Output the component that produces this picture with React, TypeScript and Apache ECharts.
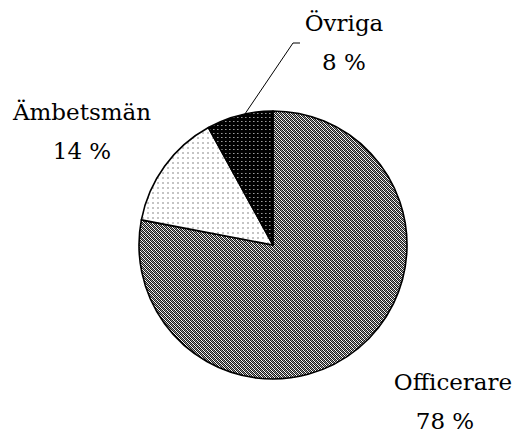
import React, { useEffect, useRef } from "react";
import * as echarts from "echarts";

const categories = ["Officerare", "Ämbetsmän", "Övriga"];
const values = [78, 14, 8];

function makePattern(size: number, paint: (x: number, y: number) => string) {
  const c = document.createElement("canvas");
  c.width = size;
  c.height = size;
  const ctx = c.getContext("2d")!;
  for (let y = 0; y < size; y++) {
    for (let x = 0; x < size; x++) {
      ctx.fillStyle = paint(x, y);
      ctx.fillRect(x, y, 1, 1);
    }
  }
  return c;
}

export default function App() {
  const ref = useRef<HTMLDivElement>(null);
  useEffect(() => {
    if (!ref.current) return;
    const chart = echarts.init(ref.current, undefined, { renderer: "svg" });

    const offPat = makePattern(4, (x, y) => {
      if ((x + y) % 2 === 0) return "#1a1a1a";
      return (x - y + 8) % 4 === 1 ? "#ffffff" : "#9a9a9a";
    });
    const ambPat = makePattern(5, (x, y) =>
      (x === 2 || x === 3) && (y === 2 || y === 3) ? "#c4c4c4" : "#fff"
    );
    const ovrPat = makePattern(4, (x, y) =>
      x === 1 && y === 1 ? "#9a9a9a" : x === 2 && y === 1 ? "#555" : "#000"
    );
    const patterns = [offPat, ambPat, ovrPat];

    const cx = 273, cy = 245, r = 134;
    const labelPos = [
      { x: 453, y: 401, padR: 16 },
      { x: 82, y: 131, padR: 0 },
      { x: 344, y: 42, padR: 0 },
    ];

    // leader line start for "Övriga": computed from data (part-way along its slice)
    const total = values.reduce((a, b) => a + b, 0);
    const before = values[0] + values[1];
    const midFrac = (before + values[2] * 0.58) / total;
    const ang = (90 - midFrac * 360) * Math.PI / 180;
    const sx = cx + r * Math.cos(ang);
    const sy = cy - r * Math.sin(ang);

    const font = "'DejaVu Serif', serif";
    const fs = 23;

    chart.setOption({
      animation: false,
      backgroundColor: "#fff",
      series: [
        {
          type: "pie",
          center: [cx, cy],
          radius: r,
          startAngle: 90,
          clockwise: true,
          silent: true,
          data: categories.map((name, i) => ({
            name,
            value: values[i],
            itemStyle: {
              color: { image: patterns[i], repeat: "repeat" },
              borderColor: "#000",
              borderWidth: 1.6,
            },
            label: {
              rich: {
                n: { fontFamily: font, fontSize: fs, color: "#000", lineHeight: 39 },
                v: {
                  fontFamily: font,
                  fontSize: fs,
                  color: "#000",
                  lineHeight: 39,
                  padding: [0, labelPos[i].padR, 0, 0],
                },
              },
            },
          })),
          label: {
            show: true,
            position: "inside",
            overflow: "none",
            fontFamily: font,
            fontSize: fs,
            color: "#000",
            lineHeight: 39,
            formatter: (p: any) => `{n|${p.name}}\n{v|${p.value} %}`,
          },
          labelLine: { show: false },
          labelLayout: (params: any) => {
            const lp = labelPos[params.dataIndex];
            return { x: lp.x, y: lp.y, align: "center", verticalAlign: "middle", hideOverlap: false };
          },
        },
      ],
      graphic: [
        {
          type: "polyline",
          shape: { points: [[sx, sy], [293, 43], [300, 43]] },
          style: { stroke: "#000", lineWidth: 1, fill: "none" },
          z: 10,
        },
      ],
    });
    return () => chart.dispose();
  }, []);
  return (
    <div
      ref={ref}
      style={{ position: "absolute", left: 0, top: 0, width: 513, height: 433 }}
    />
  );
}
